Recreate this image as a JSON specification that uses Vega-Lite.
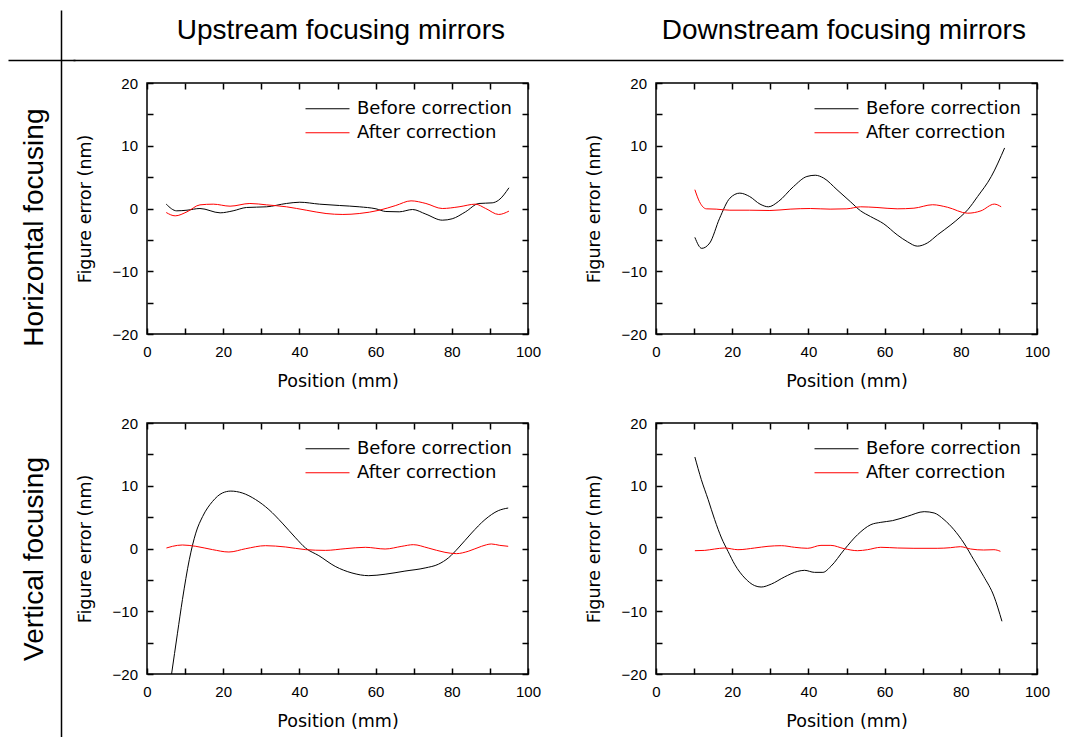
{
  "$schema": "https://vega.github.io/schema/vega-lite/v6.json",
  "padding": {"left": 8, "top": 10, "right": 0, "bottom": 0},
  "background": "white",
  "spacing": 0,
  "config": {
    "view": {"stroke": null},
    "axis": {
      "domain": false, "grid": false, "tickColor": "#000", "tickWidth": 1.5, "tickSize": -6,
      "labelFont": "Liberation Sans", "labelFontSize": 15, "labelColor": "#000", "labelPadding": 16,
      "labelFlush": false, "labelOverlap": false, "labelBound": false,
      "titleFont": "DejaVu Sans", "titleFontSize": 17.5, "titleFontWeight": "normal", "titleColor": "#000"
    },
    "axisX": {"titlePadding": 13},
    "axisY": {"labelPadding": 15.5, "titlePadding": 18},
    "legend": {
      "orient": "top-right", "offset": 15, "symbolType": "stroke", "symbolSize": 1936, "symbolStrokeWidth": 1,
      "labelFont": "DejaVu Sans", "labelFontSize": 18, "labelColor": "#000", "labelOffset": 7,
      "clipHeight": 21.5, "rowPadding": 2, "padding": 0
    }
  },
  "datasets": {
    "curves": [
      {"p":"UH","s":"Before correction","x":5.05,"y":0.69},{"p":"UH","s":"Before correction","x":7.8,"y":-0.37},{"p":"UH","s":"Before correction","x":10.5,"y":-0.27},{"p":"UH","s":"Before correction","x":13.9,"y":0},{"p":"UH","s":"Before correction","x":19.2,"y":-0.69},{"p":"UH","s":"Before correction","x":22.6,"y":-0.37},{"p":"UH","s":"Before correction","x":26.1,"y":0.16},{"p":"UH","s":"Before correction","x":31.4,"y":0.27},{"p":"UH","s":"Before correction","x":36.6,"y":0.8},{"p":"UH","s":"Before correction","x":40.1,"y":1.0},{"p":"UH","s":"Before correction","x":45.3,"y":0.69},{"p":"UH","s":"Before correction","x":50.5,"y":0.48},{"p":"UH","s":"Before correction","x":55.7,"y":0.27},{"p":"UH","s":"Before correction","x":60.1,"y":-0.05},{"p":"UH","s":"Before correction","x":62.7,"y":-0.48},{"p":"UH","s":"Before correction","x":66.2,"y":-0.53},{"p":"UH","s":"Before correction","x":69.7,"y":-0.16},{"p":"UH","s":"Before correction","x":73.2,"y":-0.9},{"p":"UH","s":"Before correction","x":77.5,"y":-1.86},{"p":"UH","s":"Before correction","x":80.1,"y":-1.64},{"p":"UH","s":"Before correction","x":83.6,"y":-0.53},{"p":"UH","s":"Before correction","x":87.1,"y":0.8},{"p":"UH","s":"Before correction","x":90.6,"y":0.9},{"p":"UH","s":"Before correction","x":92.3,"y":1.33},{"p":"UH","s":"Before correction","x":95.0,"y":3.3},
      {"p":"UH","s":"After correction","x":5.05,"y":-0.64},{"p":"UH","s":"After correction","x":7.4,"y":-1.17},{"p":"UH","s":"After correction","x":10.5,"y":-0.53},{"p":"UH","s":"After correction","x":13.9,"y":0.58},{"p":"UH","s":"After correction","x":17.4,"y":0.69},{"p":"UH","s":"After correction","x":21.8,"y":0.37},{"p":"UH","s":"After correction","x":27.0,"y":0.8},{"p":"UH","s":"After correction","x":31.4,"y":0.58},{"p":"UH","s":"After correction","x":36.6,"y":0.27},{"p":"UH","s":"After correction","x":41.8,"y":-0.27},{"p":"UH","s":"After correction","x":47.0,"y":-0.8},{"p":"UH","s":"After correction","x":51.4,"y":-0.95},{"p":"UH","s":"After correction","x":55.7,"y":-0.8},{"p":"UH","s":"After correction","x":61.0,"y":-0.27},{"p":"UH","s":"After correction","x":65.3,"y":0.48},{"p":"UH","s":"After correction","x":69.3,"y":1.22},{"p":"UH","s":"After correction","x":73.2,"y":0.8},{"p":"UH","s":"After correction","x":77.5,"y":0},{"p":"UH","s":"After correction","x":81.9,"y":0.27},{"p":"UH","s":"After correction","x":86.2,"y":0.69},{"p":"UH","s":"After correction","x":88.9,"y":0},{"p":"UH","s":"After correction","x":92.3,"y":-0.95},{"p":"UH","s":"After correction","x":95.0,"y":-0.42},
      {"p":"DH","s":"Before correction","x":10.2,"y":-4.6},{"p":"DH","s":"Before correction","x":12.0,"y":-6.35},{"p":"DH","s":"Before correction","x":14.1,"y":-5.5},{"p":"DH","s":"Before correction","x":16.7,"y":-1.55},{"p":"DH","s":"Before correction","x":19.4,"y":1.65},{"p":"DH","s":"Before correction","x":22.0,"y":2.45},{"p":"DH","s":"Before correction","x":24.6,"y":1.9},{"p":"DH","s":"Before correction","x":27.3,"y":0.7},{"p":"DH","s":"Before correction","x":29.5,"y":0.27},{"p":"DH","s":"Before correction","x":32.1,"y":1.1},{"p":"DH","s":"Before correction","x":36.1,"y":3.5},{"p":"DH","s":"Before correction","x":39.6,"y":5.1},{"p":"DH","s":"Before correction","x":41.8,"y":5.3},{"p":"DH","s":"Before correction","x":44.0,"y":4.85},{"p":"DH","s":"Before correction","x":47.5,"y":3.0},{"p":"DH","s":"Before correction","x":51.0,"y":1.1},{"p":"DH","s":"Before correction","x":53.7,"y":-0.37},{"p":"DH","s":"Before correction","x":56.3,"y":-1.28},{"p":"DH","s":"Before correction","x":59.8,"y":-2.45},{"p":"DH","s":"Before correction","x":63.3,"y":-4.2},{"p":"DH","s":"Before correction","x":66.0,"y":-5.3},{"p":"DH","s":"Before correction","x":68.6,"y":-6.0},{"p":"DH","s":"Before correction","x":71.2,"y":-5.5},{"p":"DH","s":"Before correction","x":73.9,"y":-4.2},{"p":"DH","s":"Before correction","x":77.4,"y":-2.6},{"p":"DH","s":"Before correction","x":80.0,"y":-1.28},{"p":"DH","s":"Before correction","x":81.8,"y":-0.21},{"p":"DH","s":"Before correction","x":84.4,"y":1.9},{"p":"DH","s":"Before correction","x":88.0,"y":5.1},{"p":"DH","s":"Before correction","x":91.5,"y":9.65},
      {"p":"DH","s":"After correction","x":10.2,"y":3.0},{"p":"DH","s":"After correction","x":11.4,"y":1.1},{"p":"DH","s":"After correction","x":13.2,"y":-0.05},{"p":"DH","s":"After correction","x":15.8,"y":-0.1},{"p":"DH","s":"After correction","x":19.4,"y":-0.27},{"p":"DH","s":"After correction","x":24.6,"y":-0.27},{"p":"DH","s":"After correction","x":29.9,"y":-0.32},{"p":"DH","s":"After correction","x":35.2,"y":-0.1},{"p":"DH","s":"After correction","x":40.5,"y":0},{"p":"DH","s":"After correction","x":45.7,"y":-0.1},{"p":"DH","s":"After correction","x":50.1,"y":-0.05},{"p":"DH","s":"After correction","x":53.7,"y":0.27},{"p":"DH","s":"After correction","x":58.0,"y":0.16},{"p":"DH","s":"After correction","x":63.3,"y":-0.05},{"p":"DH","s":"After correction","x":67.7,"y":0.05},{"p":"DH","s":"After correction","x":72.6,"y":0.6},{"p":"DH","s":"After correction","x":76.5,"y":0.2},{"p":"DH","s":"After correction","x":81.8,"y":-0.75},{"p":"DH","s":"After correction","x":85.3,"y":-0.37},{"p":"DH","s":"After correction","x":88.8,"y":0.7},{"p":"DH","s":"After correction","x":90.6,"y":0.27},
      {"p":"UV","s":"Before correction","x":5.0,"y":-26},{"p":"UV","s":"Before correction","x":6.45,"y":-20},{"p":"UV","s":"Before correction","x":8.0,"y":-13.5},{"p":"UV","s":"Before correction","x":9.3,"y":-8.15},{"p":"UV","s":"Before correction","x":11.1,"y":-1.8},{"p":"UV","s":"Before correction","x":12.8,"y":2.45},{"p":"UV","s":"Before correction","x":14.6,"y":5.1},{"p":"UV","s":"Before correction","x":17.2,"y":7.5},{"p":"UV","s":"Before correction","x":19.8,"y":8.85},{"p":"UV","s":"Before correction","x":22.0,"y":9.15},{"p":"UV","s":"Before correction","x":25.0,"y":8.85},{"p":"UV","s":"Before correction","x":28.5,"y":7.8},{"p":"UV","s":"Before correction","x":32.0,"y":6.2},{"p":"UV","s":"Before correction","x":35.5,"y":4.05},{"p":"UV","s":"Before correction","x":39.0,"y":1.7},{"p":"UV","s":"Before correction","x":41.6,"y":0.08},{"p":"UV","s":"Before correction","x":45.1,"y":-1.14},{"p":"UV","s":"Before correction","x":49.4,"y":-2.85},{"p":"UV","s":"Before correction","x":53.8,"y":-3.9},{"p":"UV","s":"Before correction","x":58.2,"y":-4.33},{"p":"UV","s":"Before correction","x":62.5,"y":-4.1},{"p":"UV","s":"Before correction","x":67.7,"y":-3.6},{"p":"UV","s":"Before correction","x":73.0,"y":-3.1},{"p":"UV","s":"Before correction","x":76.5,"y":-2.5},{"p":"UV","s":"Before correction","x":79.1,"y":-1.5},{"p":"UV","s":"Before correction","x":81.7,"y":0.08},{"p":"UV","s":"Before correction","x":85.2,"y":2.47},{"p":"UV","s":"Before correction","x":88.7,"y":4.6},{"p":"UV","s":"Before correction","x":92.2,"y":6.03},{"p":"UV","s":"Before correction","x":94.8,"y":6.45},
      {"p":"UV","s":"After correction","x":5.1,"y":0.08},{"p":"UV","s":"After correction","x":6.7,"y":0.35},{"p":"UV","s":"After correction","x":9.3,"y":0.56},{"p":"UV","s":"After correction","x":12.8,"y":0.35},{"p":"UV","s":"After correction","x":17.2,"y":-0.18},{"p":"UV","s":"After correction","x":21.5,"y":-0.56},{"p":"UV","s":"After correction","x":25.9,"y":-0.03},{"p":"UV","s":"After correction","x":31.1,"y":0.45},{"p":"UV","s":"After correction","x":36.4,"y":0.24},{"p":"UV","s":"After correction","x":41.6,"y":-0.18},{"p":"UV","s":"After correction","x":46.8,"y":-0.3},{"p":"UV","s":"After correction","x":52.0,"y":-0.03},{"p":"UV","s":"After correction","x":57.3,"y":0.19},{"p":"UV","s":"After correction","x":62.5,"y":-0.08},{"p":"UV","s":"After correction","x":66.9,"y":0.35},{"p":"UV","s":"After correction","x":69.9,"y":0.61},{"p":"UV","s":"After correction","x":73.8,"y":0.08},{"p":"UV","s":"After correction","x":78.2,"y":-0.61},{"p":"UV","s":"After correction","x":81.2,"y":-0.82},{"p":"UV","s":"After correction","x":84.3,"y":-0.45},{"p":"UV","s":"After correction","x":87.8,"y":0.35},{"p":"UV","s":"After correction","x":90.4,"y":0.72},{"p":"UV","s":"After correction","x":92.6,"y":0.5},{"p":"UV","s":"After correction","x":94.8,"y":0.35},
      {"p":"DV","s":"Before correction","x":10.2,"y":14.58},{"p":"DV","s":"Before correction","x":11.9,"y":10.97},{"p":"DV","s":"Before correction","x":13.7,"y":7.78},{"p":"DV","s":"Before correction","x":15.4,"y":4.6},{"p":"DV","s":"Before correction","x":17.2,"y":1.67},{"p":"DV","s":"Before correction","x":18.9,"y":-0.45},{"p":"DV","s":"Before correction","x":20.7,"y":-2.58},{"p":"DV","s":"Before correction","x":23.3,"y":-4.7},{"p":"DV","s":"Before correction","x":25.9,"y":-5.92},{"p":"DV","s":"Before correction","x":27.6,"y":-6.14},{"p":"DV","s":"Before correction","x":30.3,"y":-5.66},{"p":"DV","s":"Before correction","x":33.7,"y":-4.54},{"p":"DV","s":"Before correction","x":37.2,"y":-3.64},{"p":"DV","s":"Before correction","x":39.0,"y":-3.48},{"p":"DV","s":"Before correction","x":41.6,"y":-3.8},{"p":"DV","s":"Before correction","x":43.8,"y":-3.8},{"p":"DV","s":"Before correction","x":45.9,"y":-2.84},{"p":"DV","s":"Before correction","x":49.4,"y":-0.19},{"p":"DV","s":"Before correction","x":52.9,"y":2.2},{"p":"DV","s":"Before correction","x":56.4,"y":3.8},{"p":"DV","s":"Before correction","x":59.0,"y":4.17},{"p":"DV","s":"Before correction","x":62.1,"y":4.44},{"p":"DV","s":"Before correction","x":66.0,"y":5.13},{"p":"DV","s":"Before correction","x":70.4,"y":5.87},{"p":"DV","s":"Before correction","x":73.0,"y":5.66},{"p":"DV","s":"Before correction","x":75.6,"y":4.6},{"p":"DV","s":"Before correction","x":78.2,"y":3.0},{"p":"DV","s":"Before correction","x":80.8,"y":0.88},{"p":"DV","s":"Before correction","x":83.4,"y":-1.78},{"p":"DV","s":"Before correction","x":86.0,"y":-4.44},{"p":"DV","s":"Before correction","x":88.7,"y":-7.6},{"p":"DV","s":"Before correction","x":90.8,"y":-11.6},
      {"p":"DV","s":"After correction","x":10.2,"y":-0.35},{"p":"DV","s":"After correction","x":12.8,"y":-0.3},{"p":"DV","s":"After correction","x":15.4,"y":-0.08},{"p":"DV","s":"After correction","x":18.0,"y":0.08},{"p":"DV","s":"After correction","x":21.5,"y":-0.19},{"p":"DV","s":"After correction","x":25.9,"y":0.08},{"p":"DV","s":"After correction","x":29.4,"y":0.35},{"p":"DV","s":"After correction","x":32.9,"y":0.45},{"p":"DV","s":"After correction","x":36.4,"y":0.19},{"p":"DV","s":"After correction","x":39.8,"y":0.03},{"p":"DV","s":"After correction","x":43.3,"y":0.5},{"p":"DV","s":"After correction","x":45.9,"y":0.5},{"p":"DV","s":"After correction","x":49.4,"y":-0.03},{"p":"DV","s":"After correction","x":52.9,"y":-0.35},{"p":"DV","s":"After correction","x":55.5,"y":-0.19},{"p":"DV","s":"After correction","x":59.0,"y":0.19},{"p":"DV","s":"After correction","x":63.4,"y":0.08},{"p":"DV","s":"After correction","x":67.7,"y":0.03},{"p":"DV","s":"After correction","x":73.8,"y":0.03},{"p":"DV","s":"After correction","x":77.3,"y":0.13},{"p":"DV","s":"After correction","x":79.9,"y":0.29},{"p":"DV","s":"After correction","x":82.6,"y":-0.08},{"p":"DV","s":"After correction","x":86.0,"y":-0.24},{"p":"DV","s":"After correction","x":88.7,"y":-0.19},{"p":"DV","s":"After correction","x":90.4,"y":-0.45}
    ]
  },
  "hconcat": [
    {
      "width": 67, "height": 727,
      "data": {"values": [{"r": "Horizontal focusing"}, {"r": "Vertical focusing"}]},
      "mark": {"type": "text", "font": "Liberation Sans", "fontSize": 28, "color": "#000", "angle": 270, "baseline": "middle", "dy": -7},
      "encoding": {
        "text": {"field": "r"},
        "x": {"datum": "frame", "type": "nominal", "axis": {"orient": "top", "offset": -50, "domain": true, "domainColor": "#000", "domainWidth": 1.5, "labels": false, "ticks": false, "title": null}},
        "y": {"field": "r", "type": "nominal", "sort": null, "scale": {"padding": 0.597, "align": 0.55}, "axis": {"orient": "right", "offset": -14, "domain": true, "domainColor": "#000", "domainWidth": 1.5, "labels": false, "ticks": false, "title": null}}
      }
    },
    {
      "spacing": 0,
      "vconcat": [
        {
          "width": 916, "height": 64.5,
          "data": {"values": [{"h": "Upstream focusing mirrors"}, {"h": "Downstream focusing mirrors"}]},
          "mark": {"type": "text", "font": "Liberation Sans", "fontSize": 28, "color": "#000", "baseline": "alphabetic", "dy": -3.75},
          "encoding": {
            "text": {"field": "h"},
            "x": {"field": "h", "type": "nominal", "sort": null, "scale": {"range": [-74, 916], "padding": 0.484, "align": 0.55}, "axis": {"orient": "bottom", "offset": -14.5, "domain": true, "domainColor": "#000", "domainWidth": 1.5, "labels": false, "ticks": false, "title": null}}
          }
        },
        {
          "columns": 2,
          "spacing": {"row": 89, "column": 128},
          "bounds": "flush",
          "resolve": {"scale": {"color": "independent"}, "legend": {"color": "independent"}},
          "concat": [
            {
              "width": 381, "height": 251,
              "view": {"stroke": "#000", "strokeWidth": 1.5},
              "data": {"name": "curves"},
              "transform": [{"filter": "datum.p === 'UH'"}],
              "layer": [
                {
                  "mark": {"type": "line", "interpolate": "monotone", "strokeWidth": 1, "clip": true},
                  "encoding": {
                    "x": {"field": "x", "type": "quantitative", "scale": {"domain": [0, 100], "nice": false, "zero": false}, "axis": {"values": [0,10,20,30,40,50,60,70,80,90,100], "labelExpr": "datum.value % 20 === 0 ? datum.label : ''", "title": "Position (mm)"}},
                    "y": {"field": "y", "type": "quantitative", "scale": {"domain": [-20, 20], "nice": false}, "axis": {"values": [-20,-15,-10,-5,0,5,10,15,20], "labelExpr": "datum.value % 10 === 0 ? datum.label : ''", "title": "Figure error (nm)"}},
                    "color": {"field": "s", "type": "nominal", "scale": {"domain": ["Before correction", "After correction"], "range": ["#000000", "#ff0000"]}, "legend": {"title": null}}
                  }
                },
                {
                  "mark": {"type": "point", "opacity": 0},
                  "encoding": {
                    "x": {"field": "x", "type": "quantitative", "axis": {"orient": "top", "values": [0,10,20,30,40,50,60,70,80,90,100], "labels": false, "title": null}},
                    "y": {"field": "y", "type": "quantitative", "axis": {"orient": "right", "values": [-20,-15,-10,-5,0,5,10,15,20], "labels": false, "title": null}}
                  }
                }
              ],
              "resolve": {"axis": {"x": "independent", "y": "independent"}}
            },
            {
              "width": 381, "height": 251,
              "view": {"stroke": "#000", "strokeWidth": 1.5},
              "data": {"name": "curves"},
              "transform": [{"filter": "datum.p === 'DH'"}],
              "layer": [
                {
                  "mark": {"type": "line", "interpolate": "monotone", "strokeWidth": 1, "clip": true},
                  "encoding": {
                    "x": {"field": "x", "type": "quantitative", "scale": {"domain": [0, 100], "nice": false, "zero": false}, "axis": {"values": [0,10,20,30,40,50,60,70,80,90,100], "labelExpr": "datum.value % 20 === 0 ? datum.label : ''", "title": "Position (mm)"}},
                    "y": {"field": "y", "type": "quantitative", "scale": {"domain": [-20, 20], "nice": false}, "axis": {"values": [-20,-15,-10,-5,0,5,10,15,20], "labelExpr": "datum.value % 10 === 0 ? datum.label : ''", "title": "Figure error (nm)"}},
                    "color": {"field": "s", "type": "nominal", "scale": {"domain": ["Before correction", "After correction"], "range": ["#000000", "#ff0000"]}, "legend": {"title": null}}
                  }
                },
                {
                  "mark": {"type": "point", "opacity": 0},
                  "encoding": {
                    "x": {"field": "x", "type": "quantitative", "axis": {"orient": "top", "values": [0,10,20,30,40,50,60,70,80,90,100], "labels": false, "title": null}},
                    "y": {"field": "y", "type": "quantitative", "axis": {"orient": "right", "values": [-20,-15,-10,-5,0,5,10,15,20], "labels": false, "title": null}}
                  }
                }
              ],
              "resolve": {"axis": {"x": "independent", "y": "independent"}}
            },
            {
              "width": 381, "height": 251,
              "view": {"stroke": "#000", "strokeWidth": 1.5},
              "data": {"name": "curves"},
              "transform": [{"filter": "datum.p === 'UV'"}],
              "layer": [
                {
                  "mark": {"type": "line", "interpolate": "monotone", "strokeWidth": 1, "clip": true},
                  "encoding": {
                    "x": {"field": "x", "type": "quantitative", "scale": {"domain": [0, 100], "nice": false, "zero": false}, "axis": {"values": [0,10,20,30,40,50,60,70,80,90,100], "labelExpr": "datum.value % 20 === 0 ? datum.label : ''", "title": "Position (mm)"}},
                    "y": {"field": "y", "type": "quantitative", "scale": {"domain": [-20, 20], "nice": false}, "axis": {"values": [-20,-15,-10,-5,0,5,10,15,20], "labelExpr": "datum.value % 10 === 0 ? datum.label : ''", "title": "Figure error (nm)"}},
                    "color": {"field": "s", "type": "nominal", "scale": {"domain": ["Before correction", "After correction"], "range": ["#000000", "#ff0000"]}, "legend": {"title": null}}
                  }
                },
                {
                  "mark": {"type": "point", "opacity": 0},
                  "encoding": {
                    "x": {"field": "x", "type": "quantitative", "axis": {"orient": "top", "values": [0,10,20,30,40,50,60,70,80,90,100], "labels": false, "title": null}},
                    "y": {"field": "y", "type": "quantitative", "axis": {"orient": "right", "values": [-20,-15,-10,-5,0,5,10,15,20], "labels": false, "title": null}}
                  }
                }
              ],
              "resolve": {"axis": {"x": "independent", "y": "independent"}}
            },
            {
              "width": 381, "height": 251,
              "view": {"stroke": "#000", "strokeWidth": 1.5},
              "data": {"name": "curves"},
              "transform": [{"filter": "datum.p === 'DV'"}],
              "layer": [
                {
                  "mark": {"type": "line", "interpolate": "monotone", "strokeWidth": 1, "clip": true},
                  "encoding": {
                    "x": {"field": "x", "type": "quantitative", "scale": {"domain": [0, 100], "nice": false, "zero": false}, "axis": {"values": [0,10,20,30,40,50,60,70,80,90,100], "labelExpr": "datum.value % 20 === 0 ? datum.label : ''", "title": "Position (mm)"}},
                    "y": {"field": "y", "type": "quantitative", "scale": {"domain": [-20, 20], "nice": false}, "axis": {"values": [-20,-15,-10,-5,0,5,10,15,20], "labelExpr": "datum.value % 10 === 0 ? datum.label : ''", "title": "Figure error (nm)"}},
                    "color": {"field": "s", "type": "nominal", "scale": {"domain": ["Before correction", "After correction"], "range": ["#000000", "#ff0000"]}, "legend": {"title": null}}
                  }
                },
                {
                  "mark": {"type": "point", "opacity": 0},
                  "encoding": {
                    "x": {"field": "x", "type": "quantitative", "axis": {"orient": "top", "values": [0,10,20,30,40,50,60,70,80,90,100], "labels": false, "title": null}},
                    "y": {"field": "y", "type": "quantitative", "axis": {"orient": "right", "values": [-20,-15,-10,-5,0,5,10,15,20], "labels": false, "title": null}}
                  }
                }
              ],
              "resolve": {"axis": {"x": "independent", "y": "independent"}}
            }
          ]
        }
      ]
    }
  ]
}
